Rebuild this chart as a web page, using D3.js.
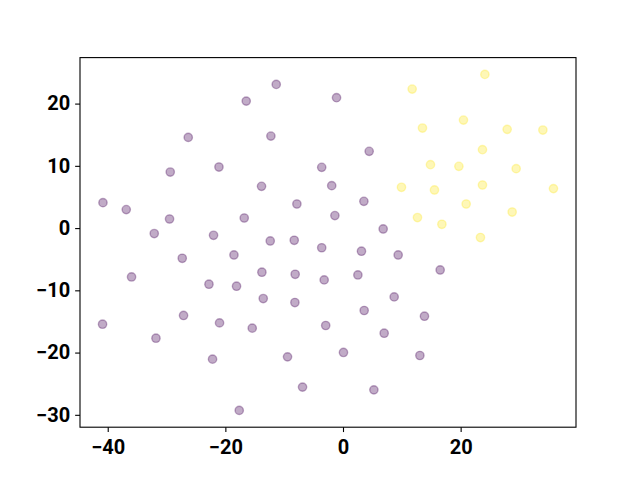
<!DOCTYPE html>
<html>
<head>
<meta charset="utf-8">
<script src="https://cdn.jsdelivr.net/npm/d3@7"></script>
<style>
  html, body { margin: 0; padding: 0; background: #fff; }
  #chart { width: 640px; height: 480px; }
</style>
</head>
<body>
<div id="chart"></div>
<script>
// クラス0 (紫)
const class0X = [-11.35, -16.45, -26.31, -12.26, -29.37, -21.09, -3.62, -1.92, -13.85, -40.81,
  -36.85, -7.84, -29.49, -16.79, -32.09, -22.01, -12.37, -8.29, -3.62, -1.10,
  4.45, 3.55, -1.38, 6.83, 3.14, -27.33, -18.54, -35.95, -22.79, -18.10,
  -13.79, -8.13, -3.20, -13.56, -8.18, -27.11, -40.88, -20.99, -15.43, -2.94,
  -31.80, -22.18, -9.43, -6.88, -17.64, 9.38, 16.52, 2.53, 8.70, 3.60,
  13.85, 7.00, 0.08, 13.07, 5.25];
const class0Y = [23.08, 20.40, 14.57, 14.78, 9.00, 9.81, 9.76, 6.82, 6.71, 4.09,
  2.97, 3.87, 1.46, 1.62, -0.88, -1.16, -2.07, -1.96, -3.16, 20.95,
  12.33, 4.30, 2.01, -0.14, -3.72, -4.85, -4.32, -7.85, -9.02, -9.34,
  -7.09, -7.42, -8.33, -11.32, -11.96, -14.04, -15.44, -15.23, -16.08, -15.65,
  -17.69, -21.06, -20.69, -25.55, -29.29, -4.32, -6.73, -7.53, -11.06, -13.24,
  -14.16, -16.89, -19.98, -20.47, -25.99];

// クラス1 (黄)
const class1X = [24.12, 11.76, 20.48, 13.51, 27.91, 33.98, 23.71, 14.87, 19.70, 29.44,
  9.94, 15.55, 23.71, 35.78, 20.94, 28.76, 12.66, 16.81, 23.37];
const class1Y = [24.69, 22.33, 17.35, 16.07, 15.86, 15.75, 12.60, 10.19, 9.92, 9.55,
  6.55, 6.12, 6.92, 6.34, 3.87, 2.58, 1.69, 0.61, -1.52];

// 目盛り
const xTicks = [-40, -20, 0, 20];
const yTicks = [-30, -20, -10, 0, 10, 20];

document.addEventListener("DOMContentLoaded", function () {
  const width = 640;
  const height = 480;
  const left = 80, right = 576, top = 57.6, bottom = 427.2;

  const points = class0X.map((x, i) => ({ x: x, y: class0Y[i], c: 0 }))
    .concat(class1X.map((x, i) => ({ x: x, y: class1Y[i], c: 1 })));

  // matplotlib風の5%マージン
  function padded(ext) {
    const m = (ext[1] - ext[0]) * 0.05;
    return [ext[0] - m, ext[1] + m];
  }

  const xScale = d3.scaleLinear()
    .domain(padded(d3.extent(points, (d) => d.x)))
    .range([left, right]);

  const yScale = d3.scaleLinear()
    .domain(padded(d3.extent(points, (d) => d.y)))
    .range([bottom, top]);

  const colors = ["#440154", "#fde725"];

  const svg = d3.select("#chart")
    .append("svg")
    .attr("width", width)
    .attr("height", height);

  // 散布図
  svg.append("g")
    .selectAll("circle")
    .data(points)
    .enter()
    .append("circle")
    .attr("cx", (d) => xScale(d.x))
    .attr("cy", (d) => yScale(d.y))
    .attr("r", 4.17)
    .attr("fill", (d) => colors[d.c])
    .attr("fill-opacity", 0.33)
    .attr("stroke", (d) => colors[d.c])
    .attr("stroke-opacity", 0.33)
    .attr("stroke-width", 1.39);

  // 軸
  const fmt = d3.format("d");
  const xAxis = svg.append("g")
    .attr("transform", `translate(0,${bottom})`)
    .call(d3.axisBottom(xScale).tickValues(xTicks).tickFormat(fmt).tickSize(4.86).tickPadding(7.5).tickSizeOuter(0));

  const yAxis = svg.append("g")
    .attr("transform", `translate(${left},0)`)
    .call(d3.axisLeft(yScale).tickValues(yTicks).tickFormat(fmt).tickSize(4.86).tickPadding(5).tickSizeOuter(0));

  [xAxis, yAxis].forEach(function (g) {
    g.select(".domain").remove();
    g.selectAll(".tick line").attr("stroke", "#000").attr("stroke-width", 1.1);
    g.selectAll(".tick text")
      .attr("fill", "#000")
      .style("font-family", "Roboto, sans-serif")
      .style("font-weight", "bold")
      .style("font-size", "20px");
  });

  // 枠線
  svg.append("rect")
    .attr("x", left)
    .attr("y", top)
    .attr("width", right - left)
    .attr("height", bottom - top)
    .attr("fill", "none")
    .attr("stroke", "#000")
    .attr("stroke-width", 1.1);
});
</script>
</body>
</html>
